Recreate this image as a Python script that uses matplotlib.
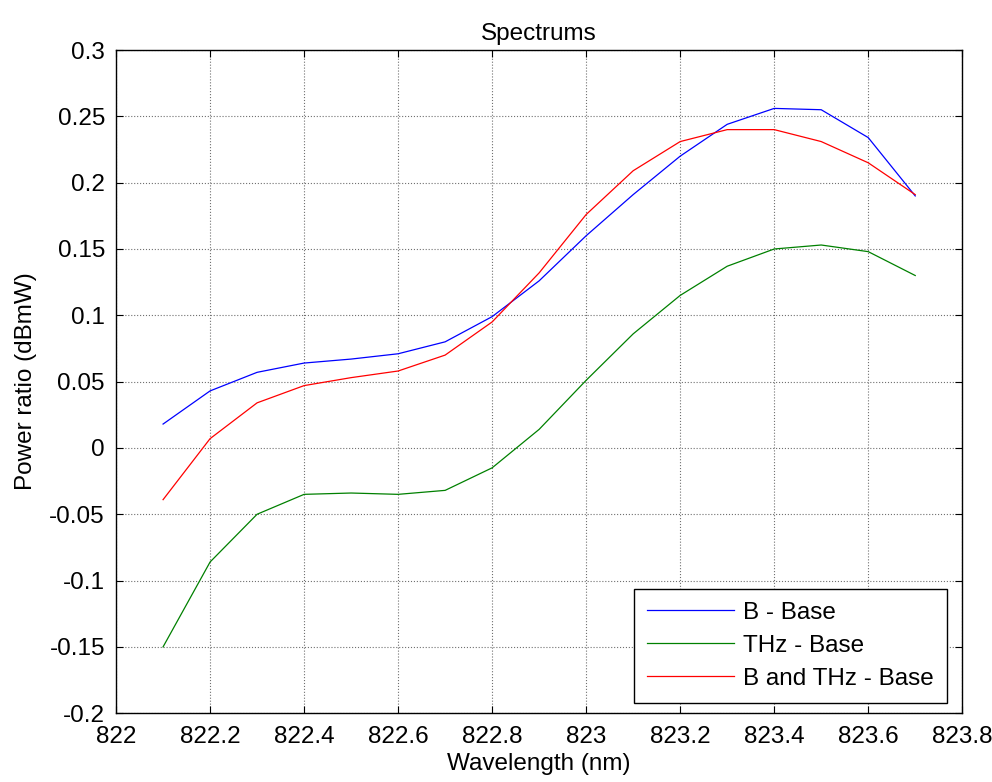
import matplotlib
matplotlib.use('Agg')
import matplotlib.pyplot as plt
import numpy as np

plt.rcParams['font.family'] = ['Liberation Sans', 'DejaVu Sans']

# wavelength (nm)
wl = [822.1, 822.2, 822.3, 822.4, 822.5, 822.6, 822.7, 822.8, 822.9,
      823.0, 823.1, 823.2, 823.3, 823.4, 823.5, 823.6, 823.7]

b_base = [0.018, 0.043, 0.057, 0.064, 0.067, 0.071, 0.080, 0.099, 0.126,
          0.160, 0.191, 0.220, 0.244, 0.256, 0.255, 0.234, 0.190]
thz_base = [-0.150, -0.086, -0.050, -0.035, -0.034, -0.035, -0.032, -0.015, 0.014,
            0.051, 0.086, 0.115, 0.137, 0.150, 0.153, 0.148, 0.130]
bthz_base = [-0.039, 0.007, 0.034, 0.047, 0.053, 0.058, 0.070, 0.095, 0.132,
             0.176, 0.209, 0.231, 0.240, 0.240, 0.231, 0.215, 0.191]

xticks = [822, 822.2, 822.4, 822.6, 822.8, 823, 823.2, 823.4, 823.6, 823.8]
xticklabels = ['822', '822.2', '822.4', '822.6', '822.8', '823', '823.2', '823.4', '823.6', '823.8']
yticks = [-0.2, -0.15, -0.1, -0.05, 0, 0.05, 0.1, 0.15, 0.2, 0.25, 0.3]
yticklabels = ['-0.2', '-0.15', '-0.1', '-0.05', '0', '0.05', '0.1', '0.15', '0.2', '0.25', '0.3']

fs = 17.5

fig = plt.figure(figsize=(9.92, 7.82), dpi=100, facecolor='white')
ax = fig.add_axes([0.117, 0.088, 0.853, 0.848])

ax.plot(wl, b_base, color='#0000ff', lw=0.9, label='B - Base')
ax.plot(wl, thz_base, color='#008000', lw=0.9, label='THz - Base')
ax.plot(wl, bthz_base, color='#ff0000', lw=0.9, label='B and THz - Base')

ax.set_xlim(822, 823.8)
ax.set_ylim(-0.2, 0.3)
ax.set_xticks(xticks)
ax.set_xticklabels(xticklabels)
ax.set_yticks(yticks)
ax.set_yticklabels(yticklabels)
ax.tick_params(direction='in', length=5, width=0.8, labelsize=fs, top=True, right=True)
ax.tick_params(axis='x', pad=9)
ax.tick_params(axis='y', pad=8)
ax.grid(True, color='#707070', linestyle=':', linewidth=0.8)
for s in ax.spines.values():
    s.set_linewidth(1.0)

ax.set_xlabel('Wavelength (nm)', fontsize=fs, labelpad=4)
ax.set_ylabel('Power ratio (dBmW)', fontsize=fs, labelpad=9)
ax.set_title('Spectrums', fontsize=fs, pad=7)

leg = ax.legend(loc='lower right', fontsize=fs, fancybox=False, framealpha=1,
                edgecolor='black', handlelength=3.6, handletextpad=0.35,
                borderpad=0.55, labelspacing=0.45, borderaxespad=0,
                bbox_to_anchor=(0.982, 0.015))
leg.get_frame().set_linewidth(1.0)

fig.savefig('out.png', dpi=100)
